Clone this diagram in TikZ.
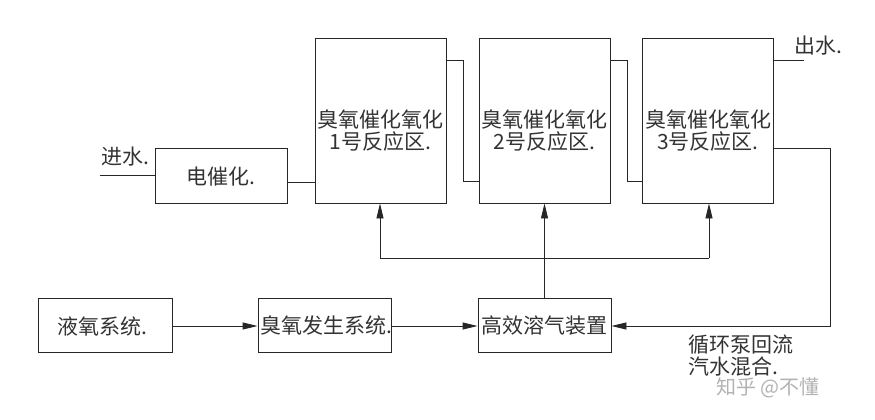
\documentclass[tikz,border=0pt]{standalone}
\usepackage{fontspec}
\setmainfont{Liberation Sans}
\newfontfamily\cjk{Noto Sans CJK SC}
\usetikzlibrary{arrows.meta,calc}
\tikzset{
  box/.style={draw=black!85, line width=0.9pt, rectangle, inner sep=0pt},
  txt/.style={font=\cjk\fontsize{21pt}{22pt}\selectfont, text=black!80, inner sep=0pt, align=center},
  wire/.style={draw=black!85, line width=0.9pt},
  arr/.style={wire, -{Triangle[length=15pt,width=7pt]}},
}
\begin{document}
\begin{tikzpicture}[x=1pt,y=-1pt]
\useasboundingbox (0,0) rectangle (875,420);
% reactors
\node[box, minimum width=131pt, minimum height=165pt] (r1) at (380.5,120.5) {};
\node[box, minimum width=131pt, minimum height=165pt] (r2) at (544.5,120.5) {};
\node[box, minimum width=131pt, minimum height=165pt] (r3) at (708,120.5) {};
\node[txt] (t1) at (380.5,131) {臭氧催化氧化\\1号反应区.};
\node[txt] (t2) at (544.5,131) {臭氧催化氧化\\2号反应区.};
\node[txt] (t3) at (708,131) {臭氧催化氧化\\3号反应区.};
% electro-catalysis
\node[box, minimum width=132pt, minimum height=55pt] (e1) at (221,175.5) {};
\node[txt] (te1) at (221,177) {电催化.};
% bottom boxes
\node[box, minimum width=134pt, minimum height=54pt] (lo) at (105,325) {};
\node[txt] (tlo) at (102,326) {液氧系统.};
\node[box, minimum width=133pt, minimum height=54pt] (oz) at (324.5,325) {};
\node[txt] (toz) at (326,326) {臭氧发生系统.};
\node[box, minimum width=133pt, minimum height=54pt] (ds) at (544.5,325) {};
\node[txt] (tds) at (544.5,326) {高效溶气装置};
% inlet
\coordinate (in) at (100,175.5);
\node[txt] (lin) at (125,157) {进水.};
\draw[wire] (in) -- (e1.west);
\draw[wire] ([yshift=-6.5pt]e1.east) coordinate (a1) -- (a1 -| r1.west);
% reactor links
\draw[wire] ([yshift=-23pt]r1.north east) -- ++(17,0) |- ([yshift=22pt]r2.south west);
\draw[wire] ([yshift=-23pt]r2.north east) -- ++(17,0) |- ([yshift=22pt]r3.south west);
% outlet
\draw[wire] ([yshift=-23pt]r3.north east) -- ++(30,0) coordinate (out);
\node[txt] (lout) at (818,46) {出水.};
% recycle
\coordinate (rc) at (830,148);
\draw[arr] (rc -| r3.east) -- (rc) |- ([yshift=-1pt]ds.east);
\node[txt, align=left, anchor=west] (lrc) at (688,345) {循环泵回流};
\node[txt, align=left, anchor=west] (lrc2) at (688,367) {汽水混合.};
% bottom arrows
\draw[arr] ([yshift=-1pt]lo.east) -- ([yshift=-1pt]oz.west);
\draw[arr] ([yshift=-1pt]oz.east) -- ([yshift=-1pt]ds.west);
% ozone distribution
\coordinate (hl) at (380,258);
\coordinate (hr) at (709,258);
\draw[arr] (ds.north) -- (ds.north |- r2.south);
\draw[wire] (hl) -- (hr);
\draw[arr] (hl) -- (hl |- r1.south);
\draw[arr] (hr) -- (hr |- r3.south);
% watermark
\node[font=\cjk\fontsize{20pt}{24pt}\selectfont, text=black!30, anchor=west, inner sep=0pt] (wm) at (716,388) {知乎 @不懂};
\end{tikzpicture}
\end{document}
